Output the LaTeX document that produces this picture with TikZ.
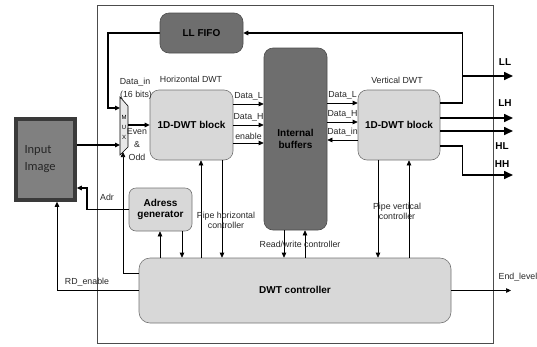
\documentclass[tikz,border=0pt]{standalone}
\usepackage{fontspec}
\setmainfont{Liberation Sans}
\newfontfamily\imgfont{Carlito}
\usepackage{tikz}
\usetikzlibrary{positioning, arrows.meta, calc}
\definecolor{lightblk}{RGB}{216, 216, 216}
\definecolor{darkblk}{RGB}{110, 110, 110}
\definecolor{imgfill}{RGB}{128, 128, 128}
\definecolor{imgrim}{RGB}{58, 58, 58}

\begin{document}
\begin{tikzpicture}[x=1pt, y=-1pt, >={Triangle[length=5pt, width=4.5pt]},
    block/.style={draw=black!55, fill=lightblk, rounded corners=9pt, line width=0.6pt,
      font=\fontsize{10}{11.5}\selectfont\bfseries, align=center, inner sep=0pt},
    darkblock/.style={block, fill=darkblk, draw=black!70},
    bus/.style={line width=1.6pt},
    sig/.style={line width=0.6pt},
    bighead/.style={-{Triangle[length=9pt, width=8pt]}},
    lbl/.style={font=\fontsize{8.8}{10}\selectfont, inner sep=1pt, text=black!85},
    outlbl/.style={font=\fontsize{10}{11}\selectfont\bfseries, inner sep=0pt}]
  \useasboundingbox (0,0) rectangle (537,346);

  % Frame and blocks
  \node[draw=black!70, line width=0.7pt, minimum width=396pt, minimum height=338pt] (frame) at (295,174) {};
  \node[darkblock, minimum width=83pt, minimum height=40pt] (fifo) at (201.5,33) {LL FIFO};
  \node[darkblock, minimum width=63pt, minimum height=182pt] (buf) at (295.5,139) {Internal\\buffers};
  \node[block, minimum width=83pt, minimum height=70pt] (hdwt) at (191.5,125) {1D-DWT block};
  \node[block, minimum width=82pt, minimum height=70pt] (vdwt) at (399,125) {1D-DWT block};
  \node[block, minimum width=63pt, minimum height=43pt, rounded corners=7pt] (adr) at (160.5,209.5) {Adress\\generator};
  \node[block, minimum width=312pt, minimum height=65pt, rounded corners=11pt] (ctrl) at (295,290.5) {};
  \node[font=\fontsize{10}{11}\selectfont\bfseries] (ctrltxt) at (295,290) {DWT controller};
  \node[draw=imgrim, fill=imgfill, line width=3.5pt, minimum width=59pt, minimum height=81pt,
        font=\imgfont\fontsize{12.5}{17}\selectfont, text=black!85, align=left, text width=42pt] (img) at (45.5,159.5) {Input\\Image};

  % Multiplexer
  \draw[sig, fill=lightblk!60] (120,97) -- (128,106) -- (128,147) -- (120,155) -- cycle;
  \node[font=\fontsize{6}{10}\selectfont, align=center, inner sep=0pt] (muxtxt) at (124,127) {M\\U\\X};
  \coordinate (muxin1) at (120,108);
  \coordinate (muxin2) at (120,145);
  \coordinate (muxout) at (128,125);
  \coordinate (muxbot) at (123,152);

  % Output ends and columns
  \coordinate (LLtap) at (462,76);
  \coordinate (LLout) at (513,76);
  \coordinate (LHout) at (513,118);
  \coordinate (HLout) at (513,131);
  \coordinate (HHout) at (513,175);
  \coordinate (endlv) at (511,290.5);
  \coordinate (colA) at (160,0);
  \coordinate (colB) at (182,0);
  \coordinate (colC) at (201,0);
  \coordinate (colD) at (222,0);
  \coordinate (colE) at (284,0);
  \coordinate (colF) at (305,0);
  \coordinate (colG) at (378,0);
  \coordinate (colH) at (409,0);

  % Thick data paths
  \draw[bus, ->] ([yshift=22pt]vdwt.east) -- ++(22,0) |- (fifo.east);
  \draw[bus, bighead] (LLtap) -- (LLout);
  \draw[bus, bighead] ([yshift=7pt]vdwt.east) -- (LHout);
  \draw[bus, bighead] ([yshift=-6pt]vdwt.east) -- (HLout);
  \draw[bus, bighead] ([yshift=-21pt]vdwt.east) -- ++(22,0) |- (HHout);
  \draw[bus, ->] (fifo.west) -- ++(-52,0) |- (muxin1);
  \draw[bus, ->] ([yshift=14.5pt]img.east) -- (muxin2);
  \draw[bus, ->] (muxout) -- (hdwt.west);
  \draw[bus, ->] (adr.west) -- ++(-42,0) |- ([yshift=-28.5pt]img.east);

  % Horizontal DWT to buffers
  \draw[sig, ->] ([yshift=21pt]hdwt.east) -- node[lbl, above=2.5pt]{Data\_L} ([yshift=35pt]buf.west);
  \draw[sig, ->] (hdwt.east) -- node[lbl, above=2.5pt]{Data\_H} ([yshift=14pt]buf.west);
  \draw[sig, ->] ([yshift=-18pt]hdwt.east) -- node[lbl, above=2.5pt]{enable} ([yshift=-4pt]buf.west);

  % Buffers to vertical DWT
  \draw[sig, ->] ([yshift=36pt]buf.east) -- node[lbl, above=2.5pt]{Data\_L} ([yshift=22pt]vdwt.west);
  \draw[sig, ->] ([yshift=17pt]buf.east) -- node[lbl, above=2.5pt]{Data\_H} ([yshift=3pt]vdwt.west);
  \draw[sig, ->] ([yshift=-15pt]vdwt.west) -- node[lbl, above=2.5pt]{Data\_in} ([yshift=-1pt]buf.east);

  % Controller links
  \draw[sig, ->] (colA |- ctrl.north) -- (colA |- adr.south);
  \draw[sig, ->] (colB |- adr.south) -- (colB |- ctrl.north);
  \draw[sig, ->] (colC |- ctrl.north) -- (colC |- hdwt.south);
  \draw[sig, ->] (colD |- hdwt.south) -- (colD |- ctrl.north);
  \draw[sig, ->] (colE |- buf.south) -- (colE |- ctrl.north);
  \draw[sig, ->] (colF |- ctrl.north) -- (colF |- buf.south);
  \draw[sig, ->] (colG |- vdwt.south) -- (colG |- ctrl.north);
  \draw[sig, ->] (colH |- ctrl.north) -- (colH |- vdwt.south);
  \draw[sig, ->] ([yshift=17.5pt]ctrl.west) -| (muxbot);
  \draw[sig, ->] (ctrl.west) -| ([xshift=11.5pt]img.south);
  \draw[sig, ->] (ctrl.east) -- (endlv);

  % Labels
  \node[lbl] (lblin) at (135,82) {Data\_in};
  \node[lbl] (lblbits) at (136,95) {(16 bits)};
  \node[lbl] (lblhor) at (191,79) {Horizontal DWT};
  \node[lbl] (lblver) at (397,80) {Vertical DWT};
  \node[lbl, align=center, font=\fontsize{8.8}{13}\selectfont] (lbleo) at (137,145) {Even\\\&\\Odd};
  \node[lbl] (lbladr) at (107,197) {Adr};
  \node[lbl, align=center] (lblph) at (226,220) {Pipe horizontal\\controller};
  \node[lbl] (lblrw) at (300,244) {Read/write controller};
  \node[lbl, align=center] (lblpv) at (397,211) {Pipe vertical\\controller};
  \node[lbl] (lblrd) at (87,282) {RD\_enable};
  \node[lbl] (lblend) at (518,277) {End\_level};
  \node[outlbl] (lblLL) at (505,62) {LL};
  \node[outlbl] (lblLH) at (505,103) {LH};
  \node[outlbl] (lblHL) at (502,146) {HL};
  \node[outlbl] (lblHH) at (502,164) {HH};
\end{tikzpicture}
\end{document}
